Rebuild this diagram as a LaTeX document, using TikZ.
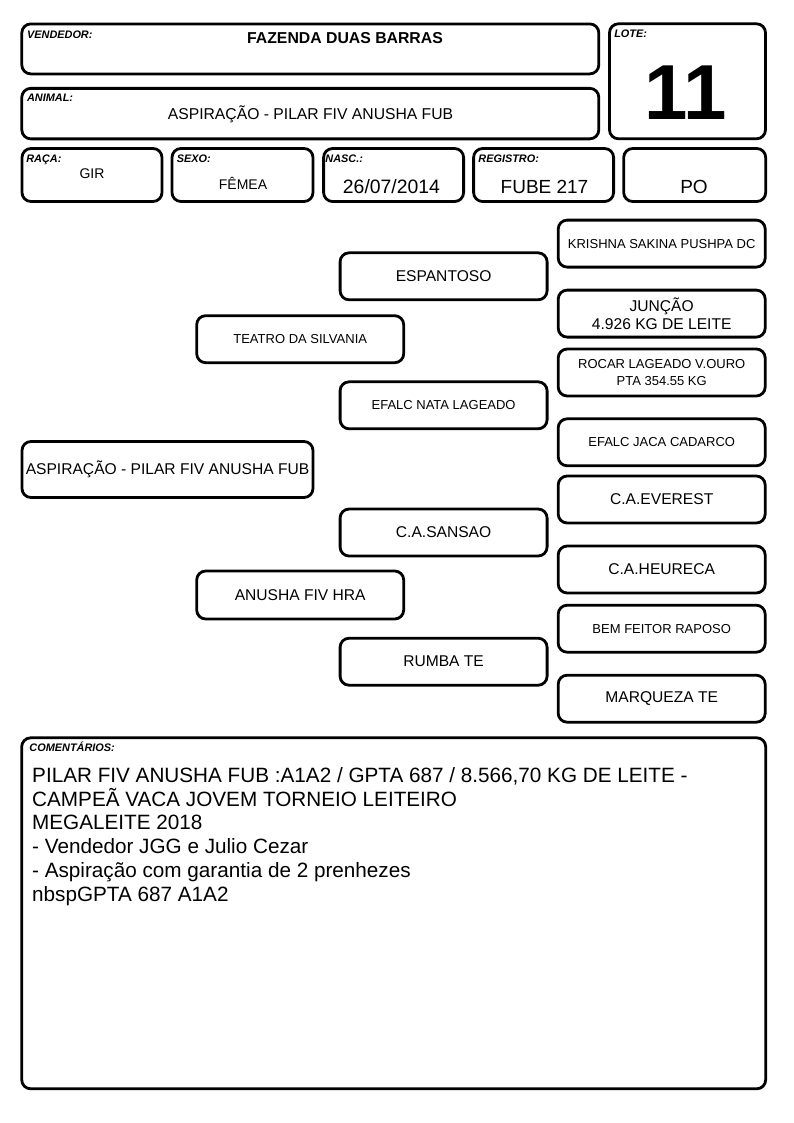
\documentclass[tikz,border=0pt]{standalone}
\usepackage{fontspec}
\setmainfont{Liberation Sans}
\usetikzlibrary{calc,positioning}

\begin{document}
\begin{tikzpicture}[x=1bp,y=-1bp,
		caixa/.style={draw,line width=2.8bp,rounded corners=9bp,inner sep=0pt},
		rotulo/.style={anchor=base west,inner sep=0pt,font=\fontsize{10.9bp}{12bp}\selectfont\bfseries\itshape},
		valor/.style={anchor=base,inner sep=0pt},
		gen/.style={caixa,minimum width=207bp,minimum height=47bp,align=center},
		grande/.style={font=\fontsize{15.6bp}{18bp}\selectfont},
		pequeno/.style={font=\fontsize{13bp}{17bp}\selectfont}]
		\useasboundingbox (0,0) rectangle (794,1123);
		% cabecalho
		\node[caixa,minimum width=577bp,minimum height=50bp] (vendedor) at (310.3,48.9) {};
		\node[rotulo] at ($(vendedor.north west)+(6.5,15.5)$) {VENDEDOR:};
		\node[valor,font=\fontsize{15.8bp}{18bp}\selectfont\bfseries] at (345,43.3) {FAZENDA DUAS BARRAS};
		\node[caixa,minimum width=577bp,minimum height=50.5bp] (animal) at (310.3,113.6) {};
		\node[rotulo] at ($(animal.north west)+(6.5,14.5)$) {ANIMAL:};
		\node[valor,font=\fontsize{15.7bp}{18bp}\selectfont] at (310.5,119.3) {ASPIRAÇÃO - PILAR FIV ANUSHA FUB};
		\node[caixa,minimum width=156bp,minimum height=115bp] (lote) at (687.5,81.3) {};
		\node[rotulo] at ($(lote.north west)+(6,15.5)$) {LOTE:};
		\node[valor,font=\fontsize{78bp}{80bp}\selectfont\bfseries] at (686,119.3) {11};
		\node[caixa,minimum width=140bp,minimum height=53bp] (raca) at (92,175) {};
		\node[rotulo] at ($(raca.north west)+(5.5,15)$) {RAÇA:};
		\node[valor,font=\fontsize{14bp}{16bp}\selectfont] at (92,178.3) {GIR};
		\node[caixa,minimum width=141bp,minimum height=53bp] (sexo) at (242.5,175) {};
		\node[rotulo] at ($(sexo.north west)+(6,15)$) {SEXO:};
		\node[valor,font=\fontsize{14bp}{16bp}\selectfont] at (243,189.3) {FÊMEA};
		\node[caixa,minimum width=140bp,minimum height=53bp] (nasc) at (393.6,175) {};
		\node[rotulo] at ($(nasc.north west)+(3,15)$) {NASC.:};
		\node[valor,font=\fontsize{19.4bp}{22bp}\selectfont] at (391.5,193.3) {26/07/2014};
		\node[caixa,minimum width=140bp,minimum height=53bp] (registro) at (543.6,175) {};
		\node[rotulo] at ($(registro.north west)+(6,15)$) {REGISTRO:};
		\node[valor,font=\fontsize{19bp}{22bp}\selectfont] at (544.5,193.3) {FUBE 217};
		\node[caixa,minimum width=142bp,minimum height=53bp] (po) at (694.7,175) {};
		\node[valor,font=\fontsize{19bp}{22bp}\selectfont] at (694,193.3) {PO};
		% genealogia
		\node[gen,grande,minimum width=291bp,minimum height=56bp] (filha) at (167.5,469.5) {ASPIRAÇÃO - PILAR FIV ANUSHA FUB};
		\node[gen,pequeno] (pai) at (300.2,339.2) {TEATRO DA SILVANIA};
		\node[gen,grande,minimum height=48bp] (mae) at (300.2,595) {ANUSHA FIV HRA};
		\node[gen,grande] (avopp) at (443.6,276.3) {ESPANTOSO};
		\node[gen,pequeno] (avopm) at (443.6,405.3) {EFALC NATA LAGEADO};
		\node[gen,grande] (avomp) at (443.6,532.5) {C.A.SANSAO};
		\node[gen,grande] (avomm) at (443.6,661.7) {RUMBA TE};
		\node[gen,pequeno] (bis1) at (661.7,243.6) {KRISHNA SAKINA PUSHPA DC};
		\node[gen,grande] (bis2) at (661.7,313.6) {JUNÇÃO\\4.926 KG DE LEITE};
		\node[gen,pequeno] (bis3) at (661.7,372.5) {ROCAR LAGEADO V.OURO\\PTA 354.55 KG};
		\node[gen,pequeno] (bis4) at (661.7,442.3) {EFALC JACA CADARCO};
		\node[gen,grande] (bis5) at (661.7,499.5) {C.A.EVEREST};
		\node[gen,grande] (bis6) at (661.7,569.5) {C.A.HEURECA};
		\node[gen,pequeno] (bis7) at (661.7,628.7) {BEM FEITOR RAPOSO};
		\node[gen,grande] (bis8) at (661.7,698.7) {MARQUEZA TE};
		% comentarios
		\node[caixa,minimum width=744bp,minimum height=351bp] (comentarios) at (393.7,913.3) {};
		\node[rotulo] at ($(comentarios.north west)+(9,15.5)$) {COMENTÁRIOS:};
		\node[anchor=north west,inner sep=0pt,align=left,font=\fontsize{20.7bp}{23.8bp}\selectfont] (texto) at (32,767) {PILAR FIV ANUSHA FUB :A1A2 / GPTA 687 / 8.566,70 KG DE LEITE -\\CAMPEÃ VACA JOVEM TORNEIO LEITEIRO\\MEGALEITE 2018\\- Vendedor JGG e Julio Cezar\\- Aspiração com garantia de 2 prenhezes\\nbspGPTA 687 A1A2};
	\end{tikzpicture}
\end{document}
